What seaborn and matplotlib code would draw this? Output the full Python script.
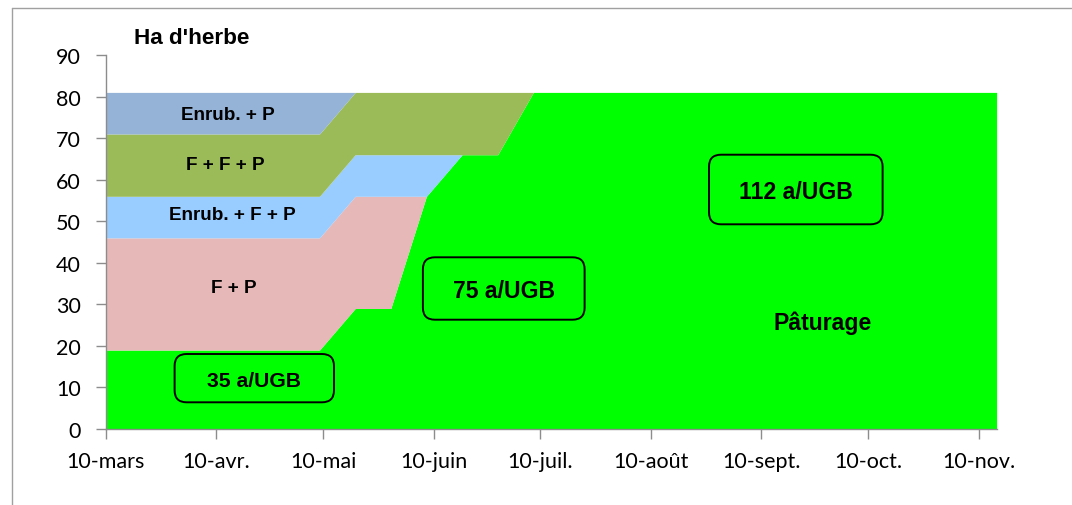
import numpy as np
import pandas as pd
import matplotlib.pyplot as plt
from matplotlib.patches import FancyBboxPatch
from matplotlib.lines import Line2D
from matplotlib.transforms import IdentityTransform
import seaborn as sns

sns.set_theme(style="white")
plt.rcParams['font.family'] = ['Liberation Sans', 'DejaVu Sans']

# Data: hectares of grass per use, stacked bottom -> top
dates = ['2013-03-10', '2013-05-09', '2013-05-19', '2013-05-29', '2013-06-08',
         '2013-06-18', '2013-06-28', '2013-07-08', '2013-11-15']
paturage = [19, 19, 29, 29, 56, 66, 66, 81, 81]
f_p = [27, 27, 27, 27, 0, 0, 0, 0, 0]
enrub_f_p = [10, 10, 10, 10, 10, 0, 0, 0, 0]
f_f_p = [15, 15, 15, 15, 15, 15, 15, 0, 0]
enrub_p = [10, 10, 0, 0, 0, 0, 0, 0, 0]

series_names = ['Pâturage', 'F + P', 'Enrub. + F + P', 'F + F + P', 'Enrub. + P']
colors = ['#00FF00', '#E6B9B8', '#99CCFF', '#9BBB59', '#95B3D7']

tick_dates = ['2013-03-10', '2013-04-10', '2013-05-10', '2013-06-10', '2013-07-10',
              '2013-08-10', '2013-09-10', '2013-10-10', '2013-11-10']
tick_labels = ['10-mars', '10-avr.', '10-mai', '10-juin', '10-juil.',
               '10-août', '10-sept.', '10-oct.', '10-nov.']

df = pd.DataFrame({'date': pd.to_datetime(dates), 'Pâturage': paturage, 'F + P': f_p,
                   'Enrub. + F + P': enrub_f_p, 'F + F + P': f_f_p, 'Enrub. + P': enrub_p})

W, H = 1072, 506
fig = plt.figure(figsize=(W / 100, H / 100), dpi=100)
ax = fig.add_axes([105.7 / W, (H - 430) / H, (996.6 - 105.7) / W, (430 - 56) / H])

ax.stackplot(df['date'], *[df[c] for c in series_names], colors=colors, linewidth=0)

ax.set_xlim(pd.Timestamp('2013-03-10'), pd.Timestamp('2013-11-15'))
ax.set_ylim(0, 90)
ax.set_yticks(np.arange(0, 91, 10))
ax.set_xticks(pd.to_datetime(tick_dates))
ax.set_xticklabels(tick_labels)

sns.despine(ax=ax)
for s in ['left', 'bottom']:
    ax.spines[s].set_color('#8C8C8C')
    ax.spines[s].set_linewidth(1)
ax.tick_params(axis='both', direction='out', length=7, width=1, color='#8C8C8C',
               labelsize=15.5, labelcolor='black', bottom=True, left=True)
ax.tick_params(axis='y', pad=11)
ax.tick_params(axis='x', pad=9)
for lab in ax.get_xticklabels() + ax.get_yticklabels():
    lab.set_fontfamily('Lato')
ax.grid(False)


def px(x, y):
    return x / W, 1 - y / H


def label(x, y, s, size):
    fig.text(*px(x, y), s, ha='center', va='baseline', fontsize=size,
             fontweight='bold', color='black', zorder=5)


def box(x0, y0, x1, y1):
    p = FancyBboxPatch((x0, H - y1), x1 - x0, y1 - y0,
                       boxstyle='round,pad=0,rounding_size=12',
                       transform=IdentityTransform(), fc='#00FF00', ec='black', lw=1.4, zorder=4)
    fig.add_artist(p)


# chart border (partially cropped)
fig.add_artist(Line2D([12 / W, 1], [1 - 9 / H, 1 - 9 / H], transform=fig.transFigure, color='#A0A0A0', lw=1))
fig.add_artist(Line2D([12 / W, 12 / W], [0, 1 - 9 / H], transform=fig.transFigure, color='#A0A0A0', lw=1))

box(174.6, 355, 334, 403.3)
box(422.9, 258.3, 584.6, 320.7)
box(709, 155.7, 882.6, 225.3)

label(192, 44.3, "Ha d'herbe", 16.2)
label(228, 120, 'Enrub. + P', 13.6)
label(225, 170, 'F + F + P', 13.6)
label(232, 220, 'Enrub. + F + P', 13.6)
label(233.6, 292.7, 'F + P', 13.6)
label(253.6, 387.3, '35 a/UGB', 15.2)
label(504, 298.3, '75 a/UGB', 16.6)
label(795.5, 199.3, '112 a/UGB', 16.6)
label(822.5, 330, 'Pâturage', 16.6)

fig.savefig('out.png', dpi=100)
